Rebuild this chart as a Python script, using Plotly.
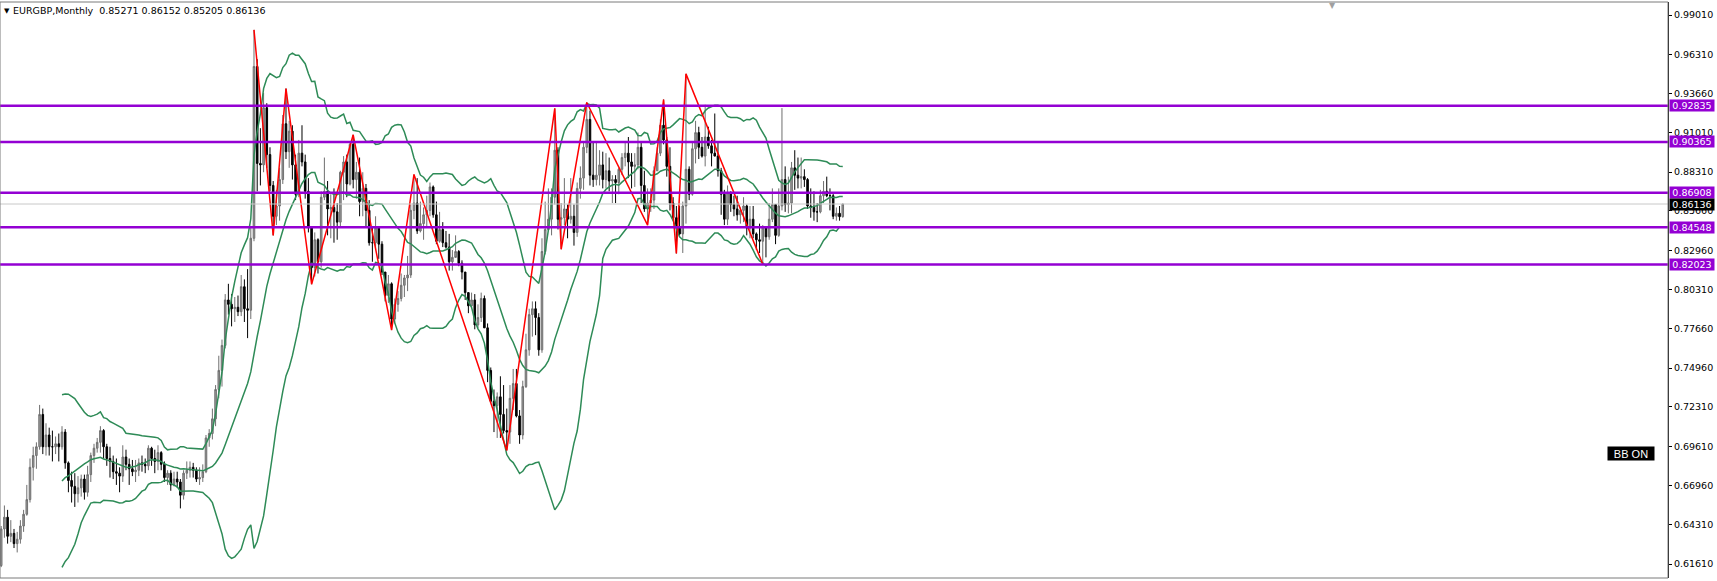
import plotly.graph_objects as go
import pandas as pd

# ---------------- data (monthly EURGBP, May 2002 .. Apr 2024) ----------------
first_open = 0.6150

highs = [
    # 2002 May-Dec
    0.6420, 0.6560, 0.6530, 0.6460, 0.6400, 0.6380, 0.6460, 0.6530,
    # 2003
    0.6700, 0.6880, 0.6960, 0.6990, 0.7245, 0.7220, 0.7120, 0.7090, 0.7070, 0.7030, 0.7050, 0.7100,
    # 2004
    0.7080, 0.6860, 0.6790, 0.6780, 0.6760, 0.6770, 0.6770, 0.6830, 0.6920, 0.6980, 0.7020, 0.7100,
    # 2005
    0.7080, 0.6980, 0.6960, 0.6900, 0.6880, 0.6820, 0.6970, 0.6940, 0.6880, 0.6870, 0.6870, 0.6880,
    # 2006
    0.6900, 0.6880, 0.6970, 0.6960, 0.6940, 0.6970, 0.6930, 0.6860, 0.6800, 0.6800, 0.6790, 0.6790,
    # 2007
    0.6740, 0.6800, 0.6860, 0.6860, 0.6850, 0.6820, 0.6820, 0.6840, 0.7040, 0.7080, 0.7220, 0.7380,
    # 2008
    0.7580, 0.7690, 0.8000, 0.8070, 0.8000, 0.7980, 0.7990, 0.8130, 0.8100, 0.8170, 0.8450, 0.9800,
    # 2009
    0.9600, 0.9130, 0.9370, 0.9300, 0.9000, 0.8770, 0.8710, 0.8860, 0.9220, 0.9400, 0.9180, 0.9150,
    # 2010
    0.8950, 0.9050, 0.9150, 0.8950, 0.8790, 0.8460, 0.8420, 0.8380, 0.8700, 0.8930, 0.8770, 0.8680,
    # 2011
    0.8720, 0.8620, 0.8840, 0.8940, 0.8950, 0.9030, 0.9085, 0.8900, 0.8930, 0.8830, 0.8750, 0.8640,
    # 2012
    0.8460, 0.8530, 0.8410, 0.8360, 0.8150, 0.8130, 0.8080, 0.7970, 0.8020, 0.8140, 0.8130, 0.8260,
    # 2013
    0.8610, 0.8815, 0.8790, 0.8630, 0.8590, 0.8670, 0.8760, 0.8740, 0.8630, 0.8560, 0.8490, 0.8430,
    # 2014
    0.8410, 0.8300, 0.8400, 0.8300, 0.8230, 0.8150, 0.8010, 0.8010, 0.8000, 0.7930, 0.8010, 0.7990,
    # 2015
    0.7800, 0.7500, 0.7350, 0.7330, 0.7440, 0.7380, 0.7220, 0.7380, 0.7490, 0.7490, 0.7210, 0.7410,
    # 2016
    0.7730, 0.7900, 0.7950, 0.7950, 0.7870, 0.8380, 0.8630, 0.8720, 0.8720, 0.9265, 0.9000, 0.8620,
    # 2017
    0.8790, 0.8610, 0.8790, 0.8610, 0.8760, 0.8870, 0.9030, 0.9305, 0.9250, 0.9040, 0.9030, 0.8980,
    # 2018
    0.8970, 0.8960, 0.8930, 0.8810, 0.8810, 0.8860, 0.8960, 0.9030, 0.9070, 0.8960, 0.8960, 0.9100,
    # 2019
    0.9040, 0.8840, 0.8720, 0.8720, 0.8870, 0.9000, 0.9190, 0.9325, 0.9070, 0.9000, 0.8660, 0.8600,
    # 2020
    0.8600, 0.8630, 0.9500, 0.8870, 0.9030, 0.9180, 0.9140, 0.9070, 0.9290, 0.9140, 0.9050, 0.9230,
    # 2021
    0.9040, 0.8860, 0.8710, 0.8740, 0.8700, 0.8670, 0.8670, 0.8590, 0.8660, 0.8610, 0.8600, 0.8600,
    # 2022
    0.8420, 0.8480, 0.8470, 0.8440, 0.8620, 0.8720, 0.8600, 0.8720, 0.9267, 0.8870, 0.8800, 0.8900,
    # 2023
    0.8980, 0.8930, 0.8930, 0.8850, 0.8790, 0.8720, 0.8700, 0.8620, 0.8710, 0.8770, 0.8800, 0.8720,
    # 2024 Jan-Apr
    0.8690, 0.8590, 0.8600, 0.86152,
]

lows = [
    # 2002 May-Dec
    0.6140, 0.6340, 0.6300, 0.6310, 0.6270, 0.6240, 0.6300, 0.6380,
    # 2003
    0.6490, 0.6580, 0.6730, 0.6810, 0.6940, 0.6910, 0.6900, 0.6900, 0.6860, 0.6910, 0.6860, 0.6940,
    # 2004
    0.6810, 0.6650, 0.6580, 0.6550, 0.6580, 0.6620, 0.6600, 0.6620, 0.6720, 0.6850, 0.6920, 0.6920,
    # 2005
    0.6880, 0.6830, 0.6750, 0.6740, 0.6700, 0.6650, 0.6720, 0.6800, 0.6700, 0.6760, 0.6720, 0.6760,
    # 2006
    0.6790, 0.6780, 0.6800, 0.6830, 0.6780, 0.6800, 0.6800, 0.6720, 0.6700, 0.6660, 0.6690, 0.6680,
    # 2007
    0.6540, 0.6600, 0.6740, 0.6750, 0.6750, 0.6720, 0.6700, 0.6720, 0.6780, 0.6960, 0.7010, 0.7100,
    # 2008
    0.7290, 0.7370, 0.7630, 0.7860, 0.7780, 0.7810, 0.7850, 0.7850, 0.7810, 0.7700, 0.7830, 0.8360,
    # 2009
    0.8700, 0.8740, 0.8830, 0.8860, 0.8700, 0.8400, 0.8470, 0.8500, 0.8750, 0.8920, 0.8860, 0.8780,
    # 2010
    0.8640, 0.8660, 0.8870, 0.8650, 0.8420, 0.8067, 0.8120, 0.8140, 0.8180, 0.8640, 0.8400, 0.8380,
    # 2011
    0.8350, 0.8370, 0.8460, 0.8640, 0.8660, 0.8740, 0.8720, 0.8650, 0.8530, 0.8530, 0.8450, 0.8330,
    # 2012
    0.8220, 0.8300, 0.8240, 0.8130, 0.7950, 0.7940, 0.7755, 0.7800, 0.7880, 0.7950, 0.7980, 0.8020,
    # 2013
    0.8110, 0.8510, 0.8410, 0.8420, 0.8370, 0.8450, 0.8530, 0.8520, 0.8340, 0.8350, 0.8320, 0.8310,
    # 2014
    0.8160, 0.8160, 0.8260, 0.8190, 0.8100, 0.7960, 0.7870, 0.7910, 0.7760, 0.7770, 0.7810, 0.7770,
    # 2015
    0.7400, 0.7260, 0.7060, 0.7020, 0.7020, 0.7050, 0.6935, 0.6980, 0.7210, 0.7160, 0.6980, 0.7010,
    # 2016
    0.7360, 0.7580, 0.7710, 0.7720, 0.7580, 0.7600, 0.8270, 0.8430, 0.8400, 0.8610, 0.8440, 0.8305,
    # 2017
    0.8470, 0.8380, 0.8480, 0.8330, 0.8390, 0.8650, 0.8710, 0.8960, 0.8740, 0.8730, 0.8740, 0.8740,
    # 2018
    0.8720, 0.8720, 0.8700, 0.8620, 0.8620, 0.8680, 0.8810, 0.8870, 0.8790, 0.8720, 0.8730, 0.8850,
    # 2019
    0.8620, 0.8560, 0.8470, 0.8560, 0.8580, 0.8840, 0.8940, 0.9020, 0.8800, 0.8570, 0.8500, 0.8277,
    # 2020
    0.8400, 0.8280, 0.8480, 0.8640, 0.8670, 0.8890, 0.8920, 0.8930, 0.8870, 0.8990, 0.8870, 0.8960,
    # 2021
    0.8800, 0.8540, 0.8470, 0.8470, 0.8560, 0.8530, 0.8500, 0.8480, 0.8490, 0.8400, 0.8380, 0.8380,
    # 2022
    0.8300, 0.8280, 0.8203, 0.8250, 0.8370, 0.8490, 0.8340, 0.8390, 0.8570, 0.8560, 0.8550, 0.8550,
    # 2023
    0.8710, 0.8720, 0.8720, 0.8730, 0.8580, 0.8520, 0.8500, 0.8490, 0.8550, 0.8620, 0.8660, 0.8570,
    # 2024 Jan-Apr
    0.8510, 0.8500, 0.8500, 0.85205,
]

closes = [
    # 2002 May-Dec
    0.6400, 0.6480, 0.6350, 0.6370, 0.6300, 0.6330, 0.6420, 0.6500,
    # 2003
    0.6600, 0.6820, 0.6900, 0.6960, 0.7180, 0.6960, 0.7040, 0.6960, 0.6960, 0.6980, 0.6960, 0.7060,
    # 2004
    0.6850, 0.6730, 0.6690, 0.6640, 0.6680, 0.6740, 0.6650, 0.6770, 0.6900, 0.6950, 0.6990, 0.7070,
    # 2005
    0.6960, 0.6880, 0.6860, 0.6790, 0.6780, 0.6760, 0.6890, 0.6840, 0.6810, 0.6790, 0.6800, 0.6850,
    # 2006
    0.6840, 0.6830, 0.6950, 0.6880, 0.6860, 0.6920, 0.6840, 0.6750, 0.6780, 0.6700, 0.6740, 0.6720,
    # 2007
    0.6630, 0.6780, 0.6800, 0.6820, 0.6800, 0.6740, 0.6750, 0.6790, 0.7020, 0.7050, 0.7150, 0.7350,
    # 2008
    0.7480, 0.7650, 0.7960, 0.7930, 0.7900, 0.7910, 0.7880, 0.8050, 0.7900, 0.7890, 0.8380, 0.9550,
    # 2009
    0.8890, 0.8880, 0.9270, 0.8950, 0.8740, 0.8530, 0.8600, 0.8780, 0.9160, 0.8970, 0.9110, 0.8880,
    # 2010
    0.8680, 0.8960, 0.8900, 0.8700, 0.8460, 0.8180, 0.8370, 0.8220, 0.8660, 0.8700, 0.8580, 0.8590,
    # 2011
    0.8560, 0.8490, 0.8830, 0.8900, 0.8750, 0.9020, 0.8780, 0.8830, 0.8630, 0.8720, 0.8570, 0.8350,
    # 2012
    0.8350, 0.8450, 0.8340, 0.8150, 0.7990, 0.8070, 0.7830, 0.7930, 0.7970, 0.8060, 0.8110, 0.8130,
    # 2013
    0.8570, 0.8620, 0.8430, 0.8480, 0.8540, 0.8570, 0.8730, 0.8540, 0.8360, 0.8440, 0.8350, 0.8320,
    # 2014
    0.8220, 0.8250, 0.8290, 0.8210, 0.8150, 0.8010, 0.7920, 0.7960, 0.7790, 0.7840, 0.7970, 0.7770,
    # 2015
    0.7480, 0.7270, 0.7240, 0.7300, 0.7180, 0.7070, 0.7060, 0.7290, 0.7390, 0.7170, 0.7040, 0.7370,
    # 2016
    0.7620, 0.7860, 0.7900, 0.7840, 0.7620, 0.8290, 0.8440, 0.8510, 0.8660, 0.8980, 0.8510, 0.8520,
    # 2017
    0.8580, 0.8510, 0.8530, 0.8420, 0.8720, 0.8790, 0.9000, 0.9190, 0.8810, 0.8780, 0.8810, 0.8880,
    # 2018
    0.8780, 0.8840, 0.8770, 0.8780, 0.8760, 0.8850, 0.8930, 0.8960, 0.8900, 0.8870, 0.8880, 0.9000,
    # 2019
    0.8740, 0.8580, 0.8620, 0.8640, 0.8840, 0.8960, 0.9150, 0.9050, 0.8870, 0.8620, 0.8520, 0.8460,
    # 2020
    0.8410, 0.8600, 0.8850, 0.8680, 0.8990, 0.9100, 0.9000, 0.8940, 0.9070, 0.9010, 0.8960, 0.8940,
    # 2021
    0.8840, 0.8680, 0.8510, 0.8690, 0.8610, 0.8580, 0.8540, 0.8570, 0.8600, 0.8450, 0.8510, 0.8410,
    # 2022
    0.8370, 0.8360, 0.8450, 0.8390, 0.8510, 0.8610, 0.8400, 0.8600, 0.8780, 0.8610, 0.8620, 0.8860,
    # 2023
    0.8810, 0.8790, 0.8800, 0.8780, 0.8600, 0.8590, 0.8560, 0.8560, 0.8670, 0.8700, 0.8670, 0.8670,
    # 2024 Jan-Apr
    0.8530, 0.8550, 0.85271, 0.86136,
]

# ZigZag pivots: candle index and whether it is a high ("H") or low ("L")
zz_index = [79, 85, 89, 97, 110, 122, 129, 158, 173, 175, 183, 202, 207, 211, 214, 238]
zz_kind = ["H", "L", "H", "L", "H", "L", "H", "L", "H", "L", "H", "L", "H", "L", "H", "L"]

# horizontal support / resistance levels
levels = [0.92835, 0.90365, 0.86908, 0.84548, 0.82023]
current_price = 0.86136

# right price scale
tick_values = [0.99010, 0.96310, 0.93660, 0.91010, 0.88310, 0.85660, 0.82960, 0.80310,
               0.77660, 0.74960, 0.72310, 0.69610, 0.66960, 0.64310, 0.61610]

title_text = "EURGBP,Monthly\u00a0\u00a00.85271\u00a00.86152\u00a00.85205\u00a00.86136"

# ---------------- derived ----------------
n = len(closes)
x = list(range(n))
opens = [first_open] + closes[:-1]

s = pd.Series(closes)
mid = s.rolling(20).mean()
sd = s.rolling(20).std(ddof=0)
upper = mid + 2 * sd
lower = mid - 2 * sd

zz_y = [highs[i] if k == "H" else lows[i] for i, k in zip(zz_index, zz_kind)]

FONT = "DejaVu Sans"
PURPLE = "#9400D3"
GREEN = "#2E8B57"

fig = go.Figure()
fig.add_trace(go.Candlestick(
    x=x, open=opens, high=highs, low=lows, close=closes,
    increasing=dict(line=dict(color="#6f6f6f", width=1), fillcolor="#9c9c9c"),
    decreasing=dict(line=dict(color="#000000", width=1), fillcolor="#000000"),
    whiskerwidth=0, showlegend=False, hoverinfo="skip",
))
for band in (upper, mid, lower):
    fig.add_trace(go.Scatter(x=x, y=band, mode="lines",
                             line=dict(color=GREEN, width=1.5),
                             showlegend=False, hoverinfo="skip"))
fig.add_trace(go.Scatter(x=zz_index, y=zz_y, mode="lines",
                         line=dict(color="#FF0000", width=1.5),
                         showlegend=False, hoverinfo="skip"))

shapes = []
shapes.append(dict(type="line", xref="paper", yref="y", x0=0, x1=1,
                   y0=current_price, y1=current_price,
                   line=dict(color="#c8c8c8", width=1), layer="above"))
for lv in levels:
    shapes.append(dict(type="line", xref="paper", yref="y", x0=0, x1=1, y0=lv, y1=lv,
                       line=dict(color=PURPLE, width=2.5), layer="above"))
# chart frame
shapes.append(dict(type="rect", xref="paper", yref="paper", x0=0, x1=1, y0=0, y1=1,
                   line=dict(color="#7a7a7a", width=1), layer="above"))

annotations = []
for lv in levels:
    annotations.append(dict(x=1, xref="paper", y=lv, yref="y", xanchor="left", yanchor="middle",
                            text=f"{lv:.5f}", showarrow=False, bgcolor=PURPLE,
                            font=dict(family=FONT, size=9.5, color="white"),
                            width=44, height=11, borderpad=0, xshift=1))
annotations.append(dict(x=1, xref="paper", y=current_price, yref="y", xanchor="left", yanchor="middle",
                        text=f"{current_price:.5f}", showarrow=False, bgcolor="#000000",
                        font=dict(family=FONT, size=9.5, color="white"),
                        width=44, height=11, borderpad=0, xshift=1))
annotations.append(dict(x=0, xref="paper", y=1, yref="paper", xanchor="left", yanchor="top",
                        text="\u25BC", showarrow=False, xshift=2, yshift=-3,
                        font=dict(family=FONT, size=7, color="#000000")))
annotations.append(dict(x=0, xref="paper", y=1, yref="paper", xanchor="left", yanchor="top",
                        text=title_text, showarrow=False, xshift=11, yshift=-1,
                        font=dict(family=FONT, size=9.5, color="#000000")))
annotations.append(dict(x=1630.5 / 1668, xref="paper", y=(578 - 453) / 576, yref="paper",
                        xanchor="center", yanchor="middle", text="BB ON", showarrow=False,
                        bgcolor="#000000", width=46, height=13, borderpad=0,
                        font=dict(family="Liberation Sans", size=11, color="white")))
annotations.append(dict(x=1332 / 1668, xref="paper", y=1, yref="paper", xanchor="center",
                        yanchor="top", text="\u25BC", showarrow=False, yshift=3,
                        font=dict(family=FONT, size=8, color="#a0a0a0")))

fig.update_layout(
    width=1717, height=581, autosize=False,
    margin=dict(l=0, r=49, t=2, b=3, pad=0),
    paper_bgcolor="white", plot_bgcolor="white",
    shapes=shapes, annotations=annotations,
    xaxis=dict(range=[-0.375, 520.9], visible=False, rangeslider=dict(visible=False),
               showgrid=False, zeroline=False, fixedrange=True),
    yaxis=dict(range=[0.60659, 0.99896], side="right", showgrid=False, zeroline=False,
               tickvals=tick_values, ticktext=[f"{v:.5f}" for v in tick_values],
               ticks="outside", ticklen=3, tickcolor="#000000", showline=True,
               linecolor="#000000", linewidth=1,
               tickfont=dict(family=FONT, size=9.5, color="#000000"), fixedrange=True),
    font=dict(family=FONT),
)

fig.write_html("out.html", config={"displayModeBar": False, "staticPlot": True},
               post_script="document.body.style.margin='0';document.body.style.overflow='hidden';")
